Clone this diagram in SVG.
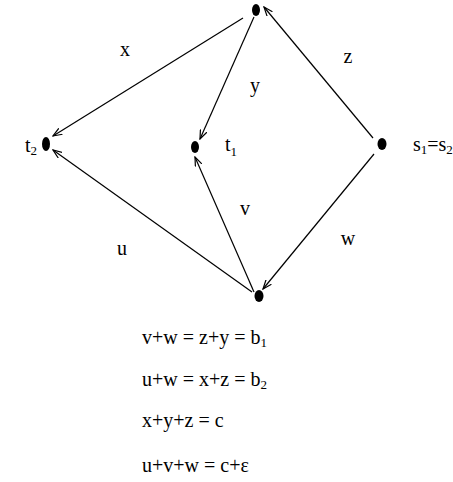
<svg xmlns="http://www.w3.org/2000/svg" width="453" height="482" viewBox="0 0 453 482">
<style>
.t{font-family:"Liberation Serif","Times New Roman",serif;font-size:20px;fill:#000}
.s{font-size:13px}
.e{stroke:#000;stroke-width:1.2;fill:none;marker-end:url(#ah)}
.n{fill:#000}
</style>
<defs>
<marker id="ah" markerWidth="10" markerHeight="8" refX="9" refY="4" orient="auto" markerUnits="userSpaceOnUse">
<path d="M0,0.5 L9,4 L0,7.5" fill="none" stroke="#000" stroke-width="1.2"/>
</marker>
</defs>
<rect width="453" height="482" fill="#fff"/>
<g id="connectors">
<line class="e" x1="243" y1="18" x2="53" y2="136"/>
<line class="e" x1="254" y1="17" x2="200" y2="139"/>
<line class="e" x1="373" y1="138" x2="264" y2="7"/>
<line class="e" x1="252" y1="292" x2="53" y2="150"/>
<line class="e" x1="254" y1="292" x2="195" y2="157"/>
<line class="e" x1="374" y1="154" x2="263" y2="289"/>
</g>
<g id="n-top"><ellipse class="n" cx="256" cy="10" rx="4" ry="6"/></g>
<g id="n-t2"><ellipse class="n" cx="46" cy="144" rx="4" ry="7"/><text class="t" x="25" y="152">t<tspan class="s" dy="3">2</tspan></text></g>
<g id="n-t1"><ellipse class="n" cx="195" cy="147" rx="4" ry="6"/><text class="t" x="225" y="151">t<tspan class="s" dy="5">1</tspan></text></g>
<g id="n-s"><ellipse class="n" cx="382" cy="144" rx="4.5" ry="6"/><text class="t" x="413" y="151">s<tspan class="s" dy="3">1</tspan><tspan dy="-3">=s</tspan><tspan class="s" dy="3">2</tspan></text></g>
<g id="n-bottom"><ellipse class="n" cx="259" cy="296" rx="4.5" ry="6"/></g>
<g id="labels">
<text class="t" x="125" y="56" text-anchor="middle">x</text>
<text class="t" x="255" y="92" text-anchor="middle">y</text>
<text class="t" x="348" y="63" text-anchor="middle">z</text>
<text class="t" x="245" y="215" text-anchor="middle">v</text>
<text class="t" x="348" y="245" text-anchor="middle">w</text>
<text class="t" x="122" y="255" text-anchor="middle">u</text>
</g>
<g id="equations">
<text class="t" x="142" y="344">v+w = z+y = b<tspan class="s" dy="3">1</tspan></text>
<text class="t" x="142" y="386">u+w = x+z = b<tspan class="s" dy="3">2</tspan></text>
<text class="t" x="142" y="427">x+y+z = c</text>
<text class="t" x="142" y="472">u+v+w = c+ε</text>
</g>
</svg>
